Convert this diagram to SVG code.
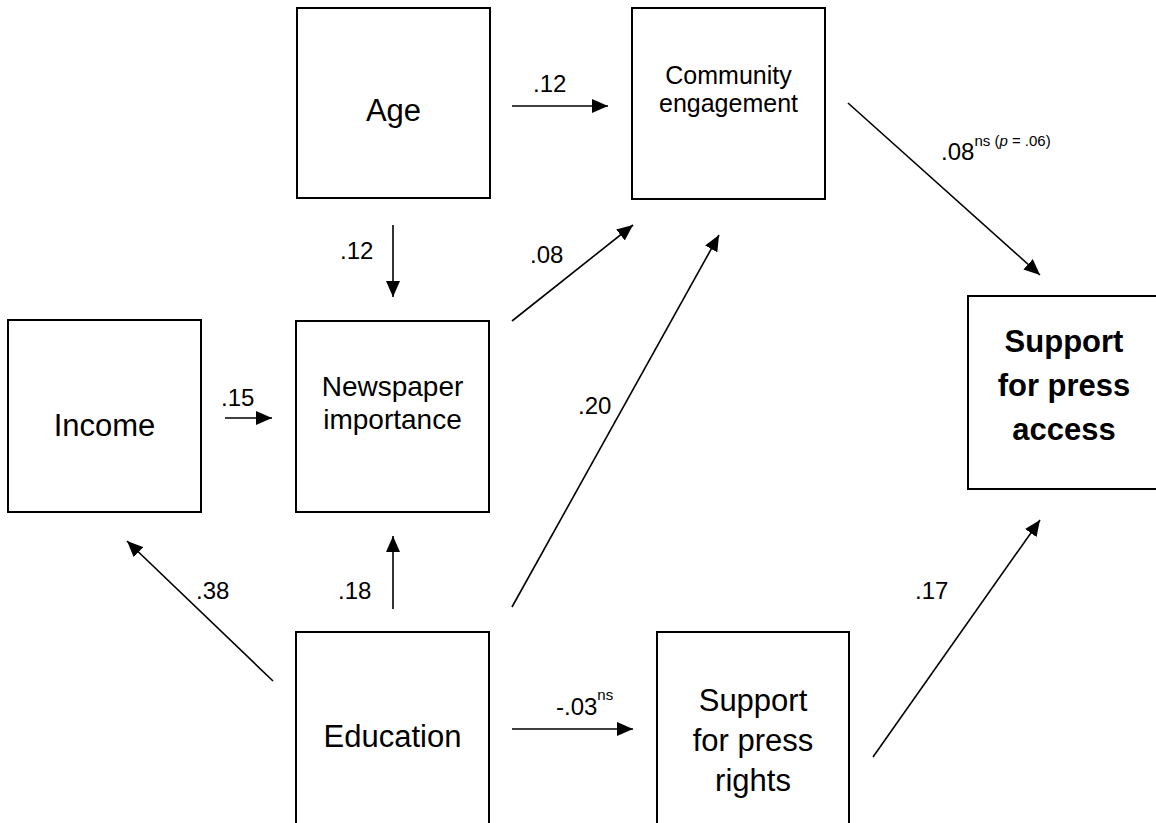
<svg xmlns="http://www.w3.org/2000/svg" width="1156" height="823" viewBox="0 0 1156 823">
<defs>
<style>
.box{fill:#fff;stroke:#000;stroke-width:2}
.t{font-family:"Liberation Sans",Arial,sans-serif;fill:#000;text-anchor:middle}
.n{font-size:31px}
.m{font-size:28px}
.k{font-size:25px}
.b{font-size:31px;font-weight:bold}
.lbl{font-family:"Liberation Sans",Arial,sans-serif;font-size:24px;fill:#000}
.sup{font-size:15px}
.c{stroke:#000;stroke-width:1.6;fill:none;marker-end:url(#ah)}
</style>
<marker id="ah" markerUnits="userSpaceOnUse" markerWidth="16" markerHeight="14" refX="16" refY="7" orient="auto">
<path d="M0,0 L16,7 L0,14 z" fill="#000"/>
</marker>
</defs>
<rect width="1156" height="823" fill="#fff"/>
<g id="age"><rect class="box" x="297" y="8" width="193" height="190"/><text class="t n" x="393.5" y="121">Age</text></g>
<g id="community"><rect class="box" x="632" y="8" width="193" height="191"/><text class="t k" x="728.5" y="84">Community</text><text class="t k" x="728.5" y="112">engagement</text></g>
<g id="income"><rect class="box" x="8" y="320" width="193" height="192"/><text class="t n" x="104.5" y="436">Income</text></g>
<g id="newspaper"><rect class="box" x="296" y="321" width="193" height="191"/><text class="t m" x="392.5" y="396">Newspaper</text><text class="t m" x="392.5" y="429">importance</text></g>
<g id="access"><rect class="box" x="968" y="296" width="200" height="193"/><text class="t b" x="1064" y="352">Support</text><text class="t b" x="1064" y="396">for press</text><text class="t b" x="1064" y="440">access</text></g>
<g id="education"><rect class="box" x="296" y="632" width="193" height="200"/><text class="t n" x="392.5" y="747">Education</text></g>
<g id="rights"><rect class="box" x="657" y="632" width="192" height="200"/><text class="t n" x="753" y="711">Support</text><text class="t n" x="753" y="751">for press</text><text class="t n" x="753" y="791">rights</text></g>
<g id="connectors">
<line class="c" x1="512" y1="106" x2="608" y2="106"/>
<line class="c" x1="393" y1="225" x2="393" y2="297"/>
<line class="c" x1="225" y1="418" x2="272" y2="418"/>
<line class="c" x1="512" y1="321" x2="633" y2="225"/>
<line class="c" x1="512" y1="607" x2="719" y2="235"/>
<line class="c" x1="848" y1="103" x2="1040" y2="275"/>
<line class="c" x1="273" y1="681" x2="127" y2="541"/>
<line class="c" x1="393" y1="609" x2="393" y2="536"/>
<line class="c" x1="512" y1="729" x2="633" y2="729"/>
<line class="c" x1="873" y1="757" x2="1040" y2="520"/>
</g>
<g id="labels">
<text class="lbl" x="533" y="92">.12</text>
<text class="lbl" x="340" y="259">.12</text>
<text class="lbl" x="530" y="263">.08</text>
<text class="lbl" x="221" y="406">.15</text>
<text class="lbl" x="578" y="414">.20</text>
<text class="lbl" x="196" y="599">.38</text>
<text class="lbl" x="338" y="599">.18</text>
<text class="lbl" x="915" y="599">.17</text>
<text class="lbl" x="556" y="715">-.03<tspan class="sup" dy="-15">ns</tspan></text>
<text class="lbl" x="941" y="160">.08<tspan class="sup" dy="-14">ns (</tspan><tspan class="sup" font-style="italic">p</tspan><tspan class="sup"> = .06)</tspan></text>
</g>
</svg>
